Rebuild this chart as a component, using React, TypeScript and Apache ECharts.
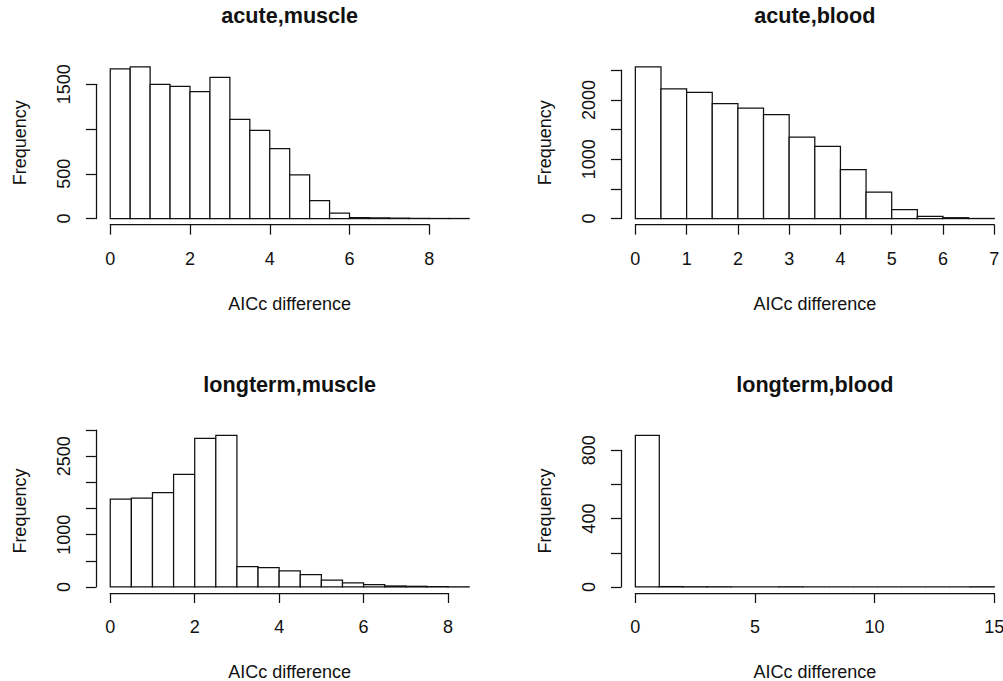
import React, { useEffect, useRef } from "react";
import * as echarts from "echarts";

// ---- data ----
const panelTitles = ["acute,muscle", "acute,blood", "longterm,muscle", "longterm,blood"];
const binWidths = [0.5, 0.5, 0.5, 1];
const acuteMuscleCounts = [1671, 1694, 1500, 1478, 1418, 1578, 1109, 986, 782, 488, 201, 60, 11, 8, 5, 2, 1, 1];
const acuteBloodCounts = [2556, 2185, 2129, 1938, 1860, 1753, 1371, 1219, 826, 444, 152, 39, 15, 2];
const longtermMuscleCounts = [1682, 1701, 1803, 2155, 2845, 2903, 390, 368, 307, 237, 130, 80, 45, 18, 12, 6, 2];
const longtermBloodCounts = [888, 2, 1, 1, 0, 0, 1, 0, 0, 0, 0, 0, 0, 0, 1];
// [min, max, interval]
const xTickSpecs = [[0, 8, 2], [0, 7, 1], [0, 8, 2], [0, 15, 5]];
const yTickSpecs = [[0, 1500, 500], [0, 2500, 500], [0, 3000, 500], [0, 800, 200]];
const yLabelsShown = [[0, 500, 1500], [0, 1000, 2000], [0, 1000, 2500], [0, 400, 800]];
const xLabel = "AICc difference";
const yLabel = "Frequency";

// ---- layout ----
const COL_LEFT = [95.9, 621.0];
const ROW_TOP = [60.85, 429.2];
const PLOT_W = 387.6;
const PLOT_H = 163.8;
const FONT = "'Liberation Sans', Arial, Helvetica, sans-serif";
const INK = "#111";
const LW = 1.25;

function buildOption() {
  const countsList = [acuteMuscleCounts, acuteBloodCounts, longtermMuscleCounts, longtermBloodCounts];
  const grids: any[] = [];
  const xAxes: any[] = [];
  const yAxes: any[] = [];
  const series: any[] = [];
  const graphics: any[] = [];

  countsList.forEach((counts, i) => {
    const left = COL_LEFT[i % 2];
    const top = ROW_TOP[Math.floor(i / 2)];
    const bw = binWidths[i];
    const xEnd = counts.length * bw;
    const xlim = [-0.04 * xEnd, 1.04 * xEnd];
    const ymax = Math.max(...counts);
    const ylim = [-0.04 * ymax, 1.04 * ymax];
    const px = (v: number) => left + ((v - xlim[0]) / (xlim[1] - xlim[0])) * PLOT_W;
    const py = (v: number) => top + PLOT_H - ((v - ylim[0]) / (ylim[1] - ylim[0])) * PLOT_H;
    const xt = xTickSpecs[i];
    const yt = yTickSpecs[i];
    const shown = yLabelsShown[i];

    // data grid (plot region)
    const g0 = grids.length;
    grids.push({ left, top, width: PLOT_W, height: PLOT_H, containLabel: false, outerBoundsMode: "none" });
    xAxes.push({
      gridIndex: g0, type: "value", min: xlim[0], max: xlim[1],
      axisLine: { show: false }, axisTick: { show: false }, axisLabel: { show: false }, splitLine: { show: false },
      name: xLabel, nameLocation: "middle", nameGap: 70,
      nameTextStyle: { fontSize: 18, color: INK, fontFamily: FONT },
    });
    yAxes.push({
      gridIndex: g0, type: "value", min: ylim[0], max: ylim[1],
      axisLine: { show: false }, axisTick: { show: false }, axisLabel: { show: false }, splitLine: { show: false },
      name: yLabel, nameLocation: "middle", nameGap: 67, nameRotate: 90,
      nameTextStyle: { fontSize: 18, color: INK, fontFamily: FONT },
    });
    series.push({
      type: "custom", xAxisIndex: g0, yAxisIndex: g0, silent: true,
      data: counts.map((c, k) => [k * bw, (k + 1) * bw, c]),
      encode: { x: [0, 1], y: 2 },
      renderItem: (_p: any, api: any) => {
        const a = api.coord([api.value(0), 0]);
        const b = api.coord([api.value(1), api.value(2)]);
        return {
          type: "polygon",
          shape: { points: [[a[0], a[1]], [a[0], b[1]], [b[0], b[1]], [b[0], a[1]]] },
          style: { fill: "#fff", stroke: INK, lineWidth: LW },
        };
      },
    });

    // x tick axis grid
    const gx = grids.length;
    grids.push({ left: px(xt[0]), width: px(xt[1]) - px(xt[0]), top, height: PLOT_H, containLabel: false, outerBoundsMode: "none" });
    xAxes.push({
      gridIndex: gx, type: "value", min: xt[0], max: xt[1], interval: xt[2], position: "bottom",
      axisLine: { show: true, lineStyle: { color: INK, width: LW } },
      axisTick: { show: true, length: 10, lineStyle: { color: INK, width: LW } },
      axisLabel: { show: true, margin: 25, fontSize: 18, color: INK, fontFamily: FONT, showMinLabel: true, showMaxLabel: true, hideOverlap: false },
      splitLine: { show: false },
    });
    yAxes.push({ gridIndex: gx, type: "value", show: false, min: 0, max: 1 });

    // y tick axis grid
    const gy = grids.length;
    grids.push({ left, width: PLOT_W, top: py(yt[1]), height: py(yt[0]) - py(yt[1]), containLabel: false, outerBoundsMode: "none" });
    xAxes.push({ gridIndex: gy, type: "value", show: false, min: 0, max: 1 });
    yAxes.push({
      gridIndex: gy, type: "value", min: yt[0], max: yt[1], interval: yt[2], position: "left",
      axisLine: { show: true, lineStyle: { color: INK, width: LW } },
      axisTick: { show: true, length: 10, lineStyle: { color: INK, width: LW } },
      axisLabel: {
        show: true, rotate: 90, margin: 23, fontSize: 18, color: INK, fontFamily: FONT,
        showMinLabel: true, showMaxLabel: true, hideOverlap: false,
        formatter: (v: number) => (shown.indexOf(v) >= 0 ? String(v) : ""),
      },
      splitLine: { show: false },
    });

    // title
    graphics.push({
      type: "text",
      x: left + PLOT_W / 2,
      y: top - 45.05,
      style: {
        text: panelTitles[i], fill: INK, fontSize: 21.6, fontWeight: "bold", fontFamily: FONT,
        align: "center", verticalAlign: "middle", textAlign: "center", textVerticalAlign: "middle",
      },
    });
  });

  return {
    animation: false,
    backgroundColor: "#fff",
    grid: grids,
    xAxis: xAxes,
    yAxis: yAxes,
    series,
    graphic: graphics,
  };
}

export default function App() {
  const ref = useRef<HTMLDivElement>(null);
  useEffect(() => {
    if (!ref.current) return;
    const chart = echarts.init(ref.current, null, { renderer: "svg" });
    chart.setOption(buildOption() as any);
    return () => chart.dispose();
  }, []);
  return (
    <div
      ref={ref}
      style={{ position: "fixed", left: 0, top: 0, width: 1003, height: 681, background: "#fff" }}
    />
  );
}
